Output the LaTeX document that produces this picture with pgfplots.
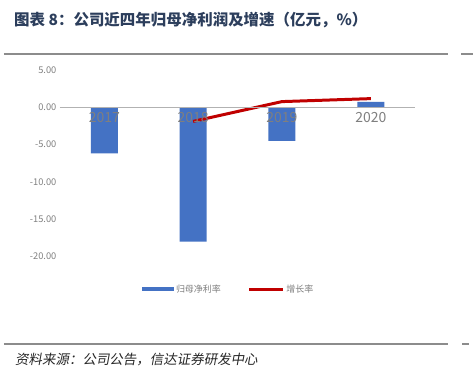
\documentclass[border=0pt]{standalone}
\usepackage{fontspec}
\setmainfont{Noto Sans CJK SC}
\newfontfamily\kai[FakeSlant=0.18]{Noto Sans CJK SC}
\usepackage{pgfplots}
\pgfplotsset{compat=1.18}
\definecolor{barblue}{HTML}{4472C4}
\definecolor{linered}{HTML}{C00000}
\definecolor{titleblue}{HTML}{2C3E5C}
\definecolor{tickgray}{HTML}{7F7F7F}
\definecolor{rulegray}{HTML}{8C8C8C}
\begin{document}
\begin{tikzpicture}[x=1pt,y=1pt]
\path[fill=white] (0,0) rectangle (474,-378);
\node[anchor=west, font=\fontsize{15.5}{18}\selectfont\bfseries, text=titleblue, inner sep=0] at (14,-20) {图表 8：公司近四年归母净利润及增速（亿元，\%）};
\draw[line width=1.8pt, rulegray] (4,-54) -- (449,-54);
\draw[line width=1.8pt, rulegray] (462,-54) -- (474,-54);
\draw[line width=1.8pt, rulegray] (4,-345) -- (449,-345);
\draw[line width=1.8pt, rulegray] (463,-345) -- (470,-345);
\node[anchor=west, font=\kai\fontsize{13.5}{16}\selectfont, text=black!85, inner sep=0] at (15,-360) {资料来源：公司公告，信达证券研发中心};
\begin{axis}[
  at={(60pt,-257pt)}, anchor=south west, scale only axis,
  width=356pt, height=187pt,
  xmin=-0.5, xmax=3.5, ymin=-20, ymax=5,
  axis on top,
  axis x line*=middle, axis y line*=left,
  y axis line style={draw=none},
  x axis line style={draw=black!30, line width=0.8pt},
  major tick length=0pt,
  ytick={-20,-15,-10,-5,0,5},
  yticklabel style={font=\fontsize{9.3}{11}\selectfont, text=tickgray,
    /pgf/number format/.cd, fixed, fixed zerofill, precision=2, assume math mode=true},
  xtick={0,1,2,3}, xticklabels={2017,2018,2019,2020},
  xticklabel style={font=\fontsize{14}{16}\selectfont, text=tickgray, yshift=-2pt},
  clip=false,
  legend style={at={(0.475,-0.176)}, anchor=center, draw=none, fill=none,
    legend columns=2, font=\fontsize{9}{11}\selectfont, text=tickgray,
    /tikz/every even column/.append style={column sep=25pt}},
]
\addplot[ybar, bar width=27pt, fill=barblue, draw=none,
  legend image code/.code={\fill[barblue] (0pt,-2pt) rectangle (32pt,2pt);}]
  coordinates {(0,-6.2) (1,-18.0) (2,-4.5) (3,0.7)};
\addlegendentry{归母净利率}
\addplot[linered, line width=3pt, mark=none,
  legend image code/.code={\draw[linered, line width=2.5pt] (0pt,0pt) -- (34pt,0pt);}]
  coordinates {(1,-1.9) (2,0.75) (3,1.15)};
\addlegendentry{增长率}
\end{axis}
\end{tikzpicture}
\end{document}
